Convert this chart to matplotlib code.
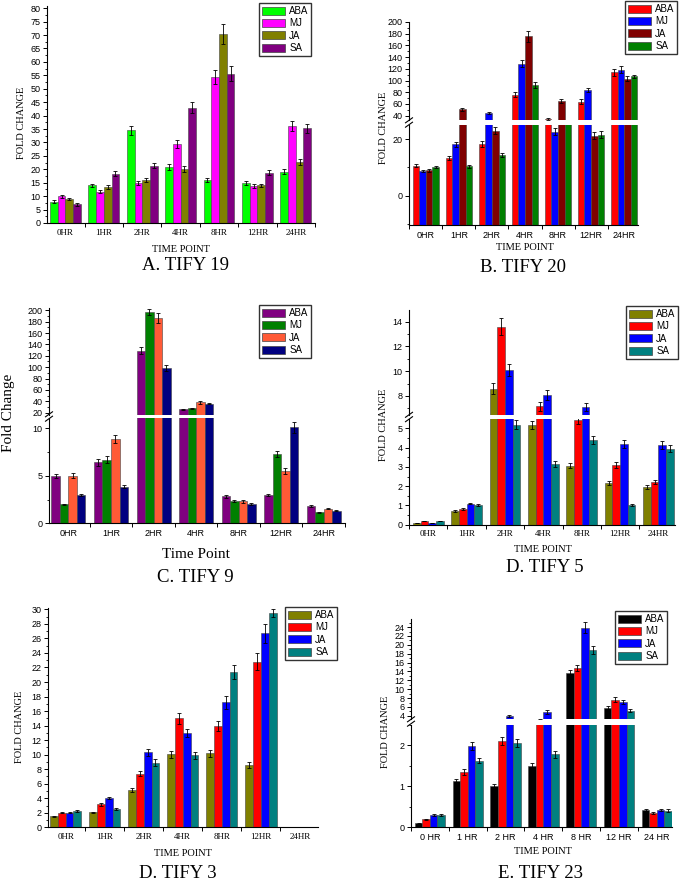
import numpy as np
import matplotlib.pyplot as plt
from matplotlib.lines import Line2D
from matplotlib.patches import Patch
from matplotlib.ticker import MultipleLocator, FixedLocator

W, H = 685, 881

times = ['0HR', '1HR', '2HR', '4HR', '8HR', '12HR', '24HR']
times_sp = ['0 HR', '1 HR', '2 HR', '4 HR', '8 HR', '12 HR', '24 HR']
treatments = ['ABA', 'MJ', 'JA', 'SA']

# rows = time points, columns = ABA, MJ, JA, SA
tify19 = [[8.0, 9.9, 8.9, 6.9], [14.0, 11.6, 13.5, 18.3], [34.6, 14.8, 15.9, 21.4],
          [21.0, 29.4, 20.1, 43.0], [15.9, 54.3, 70.4, 55.6], [14.8, 13.8, 14.0, 18.8],
          [19.1, 36.2, 22.7, 35.2]]
tify19_err = [[0.5, 0.5, 0.5, 0.4], [0.7, 0.6, 0.7, 0.9], [1.7, 0.8, 0.8, 1.1],
              [1.1, 1.5, 1.0, 2.2], [0.8, 2.7, 3.6, 2.8], [0.8, 0.7, 0.7, 1.0],
              [1.0, 1.8, 1.2, 1.8]]

tify20 = [[10.6, 8.7, 8.9, 10.1], [13.3, 18.2, 51.0, 10.4], [18.2, 45.0, 23.0, 14.3],
          [76.0, 128.5, 175.5, 92.5], [34.0, 22.6, 65.0, 28.0], [64.0, 84.0, 21.2, 21.6],
          [114.0, 118.5, 103.5, 107.0]]
tify20_err = [[0.5, 0.4, 0.4, 0.4], [0.6, 0.9, 2.5, 0.6], [1.0, 2.0, 1.2, 0.7],
              [4.0, 6.0, 9.0, 5.0], [1.5, 1.2, 3.5, 0.0], [4.0, 4.0, 1.2, 1.2],
              [6.0, 6.0, 5.0, 2.0]]

tify9 = [[5.0, 2.0, 5.0, 3.0], [6.4, 6.7, 8.85, 3.85], [129.0, 197.0, 187.0, 98.0],
         [26.0, 28.0, 38.0, 36.0], [2.85, 2.35, 2.3, 2.07], [2.95, 7.3, 5.5, 10.1],
         [1.85, 1.15, 1.55, 1.3]]
tify9_err = [[0.2, 0.08, 0.25, 0.1], [0.35, 0.35, 0.4, 0.15], [6.0, 5.0, 9.0, 5.0],
             [1.0, 1.0, 2.0, 1.5], [0.15, 0.12, 0.12, 0.1], [0.12, 0.35, 0.3, 0.6],
             [0.1, 0.05, 0.08, 0.05]]

tify5 = [[0.08, 0.19, 0.08, 0.19], [0.71, 0.81, 1.1, 1.03], [8.6, 13.6, 10.1, 5.2],
         [5.17, 7.15, 8.1, 3.15], [3.07, 5.42, 7.1, 4.4], [2.16, 3.08, 4.2, 1.03],
         [1.95, 2.2, 4.15, 3.95]]
tify5_err = [[0.01, 0.02, 0.01, 0.02], [0.04, 0.04, 0.05, 0.05], [0.45, 0.7, 0.5, 0.25],
             [0.22, 0.35, 0.4, 0.15], [0.15, 0.2, 0.35, 0.22], [0.1, 0.15, 0.22, 0.04],
             [0.1, 0.1, 0.2, 0.2]]

tify3 = [[1.5, 2.0, 2.0, 2.25], [2.05, 3.2, 4.03, 2.5], [5.15, 7.4, 10.3, 8.9],
         [10.05, 15.0, 13.0, 9.9], [10.2, 14.0, 17.2, 21.4], [8.6, 22.8, 26.7, 29.5],
         [0.02, 0.02, 0.02, 0.05]]
tify3_err = [[0.1, 0.1, 0.1, 0.1], [0.1, 0.2, 0.15, 0.1], [0.3, 0.35, 0.5, 0.5],
             [0.5, 0.8, 0.6, 0.5], [0.5, 0.7, 0.9, 1.0], [0.4, 1.2, 1.3, 0.6],
             [0.0, 0.0, 0.0, 0.0]]

tify23 = [[0.1, 0.2, 0.3, 0.3], [1.13, 1.36, 1.99, 1.63], [1.01, 2.1, 4.0, 2.07],
          [1.5, 3.0, 4.9, 1.78], [13.7, 14.8, 23.9, 18.9], [5.8, 7.66, 7.15, 5.17],
          [0.43, 0.35, 0.42, 0.41]]
tify23_err = [[0.01, 0.01, 0.02, 0.02], [0.05, 0.07, 0.09, 0.07], [0.05, 0.1, 0.2, 0.1],
              [0.07, 0.2, 0.4, 0.08], [0.7, 0.7, 1.2, 0.9], [0.4, 0.5, 0.5, 0.3],
              [0.02, 0.02, 0.02, 0.03]]

colors19 = ['#00FF00', '#FF00FF', '#808000', '#800080']
colors20 = ['#FF0000', '#0000FF', '#800000', '#008000']
colors9 = ['#800080', '#008000', '#FF5A36', '#000080']
colors5 = ['#808000', '#FF0000', '#0000FF', '#008080']
colors23 = ['#000000', '#FF0000', '#0000FF', '#008080']

SANS = 'Liberation Sans'
SERIF = 'Liberation Serif'

fig = plt.figure(figsize=(W / 100, H / 100), dpi=100)


def box(left, top, right, bottom):
    return [left / W, 1 - bottom / H, (right - left) / W, (bottom - top) / H]


def bars(ax, vals, errs, colors, base=0):
    vals = np.array(vals)
    errs = np.array(errs)
    x = np.arange(len(times))
    w = 0.2
    for j in range(4):
        xs = x + (j - 1.5) * w
        ax.bar(xs, vals[:, j] - base, w, bottom=base, color=colors[j],
               edgecolor='#444444', linewidth=0.4)
        ax.errorbar(xs, vals[:, j], yerr=errs[:, j], fmt='none', ecolor='black',
                    elinewidth=0.6, capsize=1.6, capthick=0.6)


def style(ax, xlim, ylim, major, minor, yfont, xlabels=None, xfont=SANS):
    ax.set_xlim(xlim)
    ax.set_ylim(ylim)
    for s in ['top', 'right']:
        ax.spines[s].set_visible(False)
    ax.spines['left'].set_linewidth(0.8)
    ax.spines['bottom'].set_linewidth(0.8)
    ax.yaxis.set_major_locator(major)
    ax.yaxis.set_minor_locator(minor)
    ax.tick_params(axis='y', which='major', direction='out', length=3, width=0.7,
                   labelsize=6.5, pad=1.5)
    ax.tick_params(axis='y', which='minor', direction='out', length=1.6, width=0.6)
    for t in ax.get_yticklabels():
        t.set_fontfamily(yfont)
    if xlabels is None:
        ax.spines['bottom'].set_visible(False)
        ax.set_xticks([])
        ax.xaxis.set_minor_locator(FixedLocator([]))
    else:
        ax.set_xticks(np.arange(len(xlabels)))
        ax.set_xticklabels(xlabels, fontfamily=xfont, fontsize=6.5)
        ax.xaxis.set_minor_locator(FixedLocator(np.arange(-0.5, len(xlabels), 1.0)))
        ax.tick_params(axis='x', which='major', length=0, pad=4)
        ax.tick_params(axis='x', which='minor', direction='out', length=3, width=0.7)


def brk(x, y):
    for dy in (-2.2, 2.2):
        fig.add_artist(Line2D([(x - 3.5) / W, (x + 3.5) / W],
                              [1 - (y + dy + 2.5) / H, 1 - (y + dy - 2.5) / H],
                              transform=fig.transFigure, color='black', lw=0.8))


def legend(ax, colors, x, y, fs=7):
    handles = [Patch(facecolor=c, edgecolor='#444444', linewidth=0.5) for c in colors]
    ax.legend(handles, treatments, loc='upper left', bbox_to_anchor=(x / W, 1 - y / H),
              bbox_transform=fig.transFigure, frameon=True, fancybox=False,
              edgecolor='#333333', framealpha=1, handlelength=2.4,
              handleheight=0.9, labelspacing=0.25, borderpad=0.3,
              handletextpad=0.4, borderaxespad=0, prop={'family': SANS, 'size': fs})


def labels(xlab, xlx, xly, ylab, ylx, yly, title, tx, ty, big=False):
    fs = 11 if big else 7.5
    fig.text(tx / W, 1 - ty / H, title, family=SERIF, fontsize=13.5, ha='center', va='center')
    fig.text(xlx / W, 1 - xly / H, xlab, family=SERIF, fontsize=fs, ha='center', va='center')
    fig.text(ylx / W, 1 - yly / H, ylab, family=SERIF, fontsize=fs, rotation=90,
             ha='center', va='center')


# A. TIFY 19
ax = fig.add_axes(box(47, 6, 315, 223))
bars(ax, tify19, tify19_err, colors19)
style(ax, (-0.48, 6.5), (0, 80.8), MultipleLocator(5), MultipleLocator(2.5), SANS,
      times, SERIF)
legend(ax, colors19, 259, 3)
labels('TIME POINT', 181, 249, 'FOLD CHANGE', 21, 123, 'A. TIFY 19', 185, 266)

# B. TIFY 20 (broken axis)
base20 = -10.4
up = fig.add_axes(box(409, 22, 638, 119.8))
bars(up, tify20, tify20_err, colors20, base20)
style(up, (-0.51, 6.42), (33, 200), MultipleLocator(20), MultipleLocator(10), SANS)
lo = fig.add_axes(box(409, 125, 638, 225))
bars(lo, tify20, tify20_err, colors20, base20)
style(lo, (-0.51, 6.42), (base20, 25), MultipleLocator(20), MultipleLocator(10), SANS,
      times, SANS)
brk(409, 122.5)
legend(up, colors20, 625, 1)
labels('TIME POINT', 525, 248, 'FOLD CHANGE', 383, 128, 'B. TIFY 20', 523, 267)

# C. TIFY 9 (broken axis)
up = fig.add_axes(box(49, 308, 345, 415))
bars(up, tify9, tify9_err, colors9)
style(up, (-0.457, 6.5), (16, 204), MultipleLocator(20), MultipleLocator(10), SANS)
lo = fig.add_axes(box(49, 418.3, 345, 523.3))
bars(lo, tify9, tify9_err, colors9)
style(lo, (-0.457, 6.5), (0, 11.05), MultipleLocator(5), MultipleLocator(2.5), SANS,
      times, SANS)
brk(49, 416.5)
legend(up, colors9, 259, 305)
labels('Time Point', 196, 555, 'Fold Change', 9, 413, 'C. TIFY 9', 195, 577, big=True)

# D. TIFY 5 (broken axis)
up = fig.add_axes(box(409, 310, 675, 415))
bars(up, tify5, tify5_err, colors5)
style(up, (-0.5, 6.43), (6.46, 14.94), MultipleLocator(2), MultipleLocator(1), SANS)
lo = fig.add_axes(box(409, 419.3, 675, 524.7))
bars(lo, tify5, tify5_err, colors5)
style(lo, (-0.5, 6.43), (0, 5.47), MultipleLocator(1), MultipleLocator(0.5), SANS,
      times, SERIF)
brk(409, 417)
legend(up, colors5, 626, 306)
labels('TIME POINT', 543, 550, 'FOLD CHANGE', 383, 425, 'D. TIFY 5', 545, 568)

# D. TIFY 3
ax = fig.add_axes(box(47.7, 608.3, 318.3, 827.3))
bars(ax, tify3, tify3_err, colors5)
style(ax, (-0.46, 6.47), (0, 30.15), MultipleLocator(2), MultipleLocator(1), SANS,
      times, SERIF)
legend(ax, colors5, 285, 607)
labels('TIME POINT', 183, 853, 'FOLD CHANGE', 20, 727, 'D. TIFY 3', 178, 873)

# E. TIFY 23 (broken axis)
up = fig.add_axes(box(411, 619.3, 672, 718.5))
bars(up, tify23, tify23_err, colors23)
style(up, (-0.5, 6.4), (3.4, 25.76), MultipleLocator(2), MultipleLocator(1), SANS)
lo = fig.add_axes(box(411, 725, 672, 827.3))
bars(lo, tify23, tify23_err, colors23)
style(lo, (-0.5, 6.4), (0, 2.5), MultipleLocator(1), MultipleLocator(0.5), SANS,
      times_sp, SANS)
brk(411, 721.5)
legend(up, colors23, 615, 611)
labels('TIME POINT', 543, 852, 'FOLD CHANGE', 386, 732, 'E. TIFY 23', 540, 873)

fig.savefig('out.png', dpi=100)
